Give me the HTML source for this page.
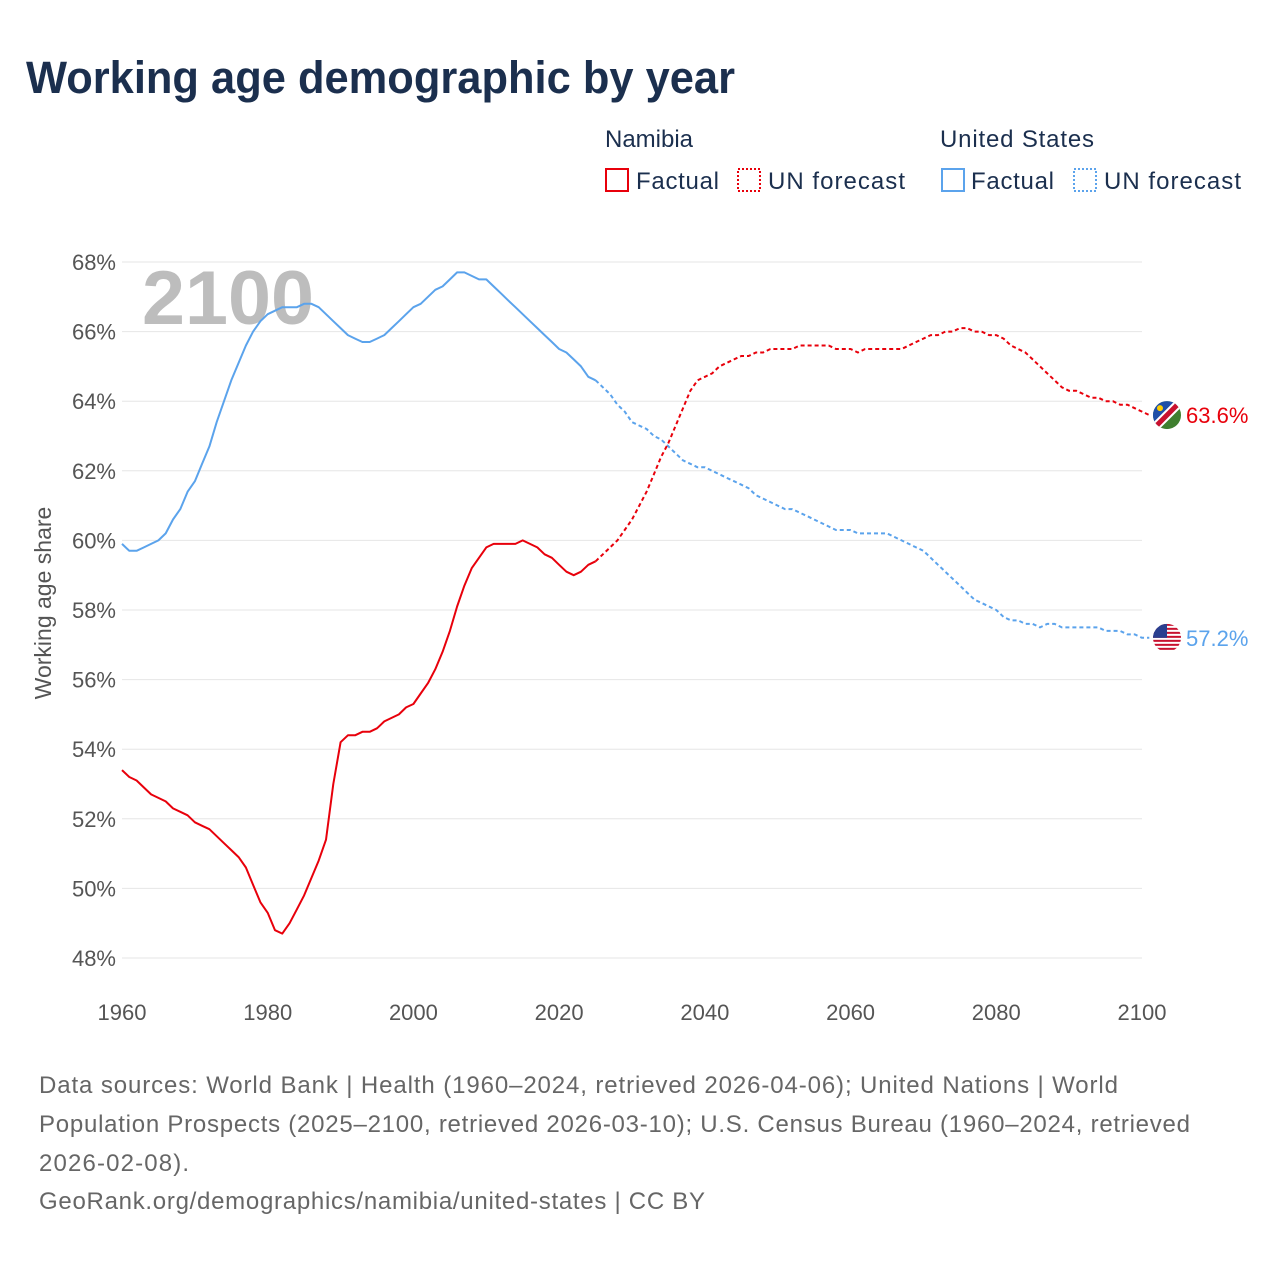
<!DOCTYPE html>
<html><head><meta charset="utf-8"><style>
body{margin:0;background:#fff;font-family:"Liberation Sans",sans-serif;}
#wrap{position:relative;width:1280px;height:1280px;overflow:hidden;}
</style></head><body>
<div id="wrap">
<svg id="chart" width="1280" height="1280" style="font-family:'Liberation Sans',sans-serif">
<defs>
<clipPath id="c1"><circle id="c1c" cx="1167" cy="0" r="14"/></clipPath>
<clipPath id="c2"><circle id="c2c" cx="1167" cy="0" r="14"/></clipPath>
</defs>
<text x="26" y="93" font-size="45" font-weight="bold" fill="#1b2f4e" textLength="709" lengthAdjust="spacingAndGlyphs">Working age demographic by year</text>
<g font-size="24" fill="#1b2f4e">
<text x="605" y="147">Namibia</text>
<rect x="606" y="169" width="22" height="22" fill="none" stroke="#e8000b" stroke-width="2"/>
<text x="636" y="189" textLength="83">Factual</text>
<rect x="738" y="169" width="22" height="22" fill="none" stroke="#e8000b" stroke-width="2" stroke-dasharray="2,2"/>
<text x="768" y="189" textLength="137">UN forecast</text>
<text x="940" y="147" textLength="154">United States</text>
<rect x="942" y="169" width="22" height="22" fill="none" stroke="#5ba3ec" stroke-width="2"/>
<text x="971" y="189" textLength="83">Factual</text>
<rect x="1074" y="169" width="22" height="22" fill="none" stroke="#5ba3ec" stroke-width="2" stroke-dasharray="2,2"/>
<text x="1104" y="189" textLength="137">UN forecast</text>
</g>
<g id="grid"></g>
<text x="142" y="324" font-size="76" font-weight="bold" fill="#bdbdbd" textLength="172" lengthAdjust="spacingAndGlyphs">2100</text>
<text transform="translate(51,603) rotate(-90)" text-anchor="middle" font-size="23" fill="#555">Working age share</text>
<g id="series"></g>
<g font-size="24" fill="#666">
<text x="39" y="1093" textLength="1079">Data sources: World Bank | Health (1960–2024, retrieved 2026-04-06); United Nations | World</text>
<text x="39" y="1132" textLength="1151">Population Prospects (2025–2100, retrieved 2026-03-10); U.S. Census Bureau (1960–2024, retrieved</text>
<text x="39" y="1171" textLength="150">2026-02-08).</text>
<text x="39" y="1209" textLength="666">GeoRank.org/demographics/namibia/united-states | CC BY</text>
</g>
</svg>
</div>
<script>
const yTicks=[48,50,52,54,56,58,60,62,64,66,68];
const xTicks=[1960,1980,2000,2020,2040,2060,2080,2100];
const namFactual=[53.4,53.2,53.1,52.9,52.7,52.6,52.5,52.3,52.2,52.1,51.9,51.8,51.7,51.5,51.3,51.1,50.9,50.6,50.1,49.6,49.3,48.8,48.7,49.0,49.4,49.8,50.3,50.8,51.4,53.0,54.2,54.4,54.4,54.5,54.5,54.6,54.8,54.9,55.0,55.2,55.3,55.6,55.9,56.3,56.8,57.4,58.1,58.7,59.2,59.5,59.8,59.9,59.9,59.9,59.9,60.0,59.9,59.8,59.6,59.5,59.3,59.1,59.0,59.1,59.3,59.4];
const namForecast=[59.4,59.6,59.8,60.0,60.3,60.6,61.0,61.4,61.9,62.4,62.8,63.3,63.8,64.3,64.6,64.7,64.8,65.0,65.1,65.2,65.3,65.3,65.4,65.4,65.5,65.5,65.5,65.5,65.6,65.6,65.6,65.6,65.6,65.5,65.5,65.5,65.4,65.5,65.5,65.5,65.5,65.5,65.5,65.6,65.7,65.8,65.9,65.9,66.0,66.0,66.1,66.1,66.0,66.0,65.9,65.9,65.8,65.6,65.5,65.4,65.2,65.0,64.8,64.6,64.4,64.3,64.3,64.2,64.1,64.1,64.0,64.0,63.9,63.9,63.8,63.7,63.6];
const usFactual=[59.9,59.7,59.7,59.8,59.9,60.0,60.2,60.6,60.9,61.4,61.7,62.2,62.7,63.4,64.0,64.6,65.1,65.6,66.0,66.3,66.5,66.6,66.7,66.7,66.7,66.8,66.8,66.7,66.5,66.3,66.1,65.9,65.8,65.7,65.7,65.8,65.9,66.1,66.3,66.5,66.7,66.8,67.0,67.2,67.3,67.5,67.7,67.7,67.6,67.5,67.5,67.3,67.1,66.9,66.7,66.5,66.3,66.1,65.9,65.7,65.5,65.4,65.2,65.0,64.7,64.6];
const usForecast=[64.6,64.4,64.2,63.9,63.7,63.4,63.3,63.2,63.0,62.9,62.7,62.5,62.3,62.2,62.1,62.1,62.0,61.9,61.8,61.7,61.6,61.5,61.3,61.2,61.1,61.0,60.9,60.9,60.8,60.7,60.6,60.5,60.4,60.3,60.3,60.3,60.2,60.2,60.2,60.2,60.2,60.1,60.0,59.9,59.8,59.7,59.5,59.3,59.1,58.9,58.7,58.5,58.3,58.2,58.1,58.0,57.8,57.7,57.7,57.6,57.6,57.5,57.6,57.6,57.5,57.5,57.5,57.5,57.5,57.5,57.4,57.4,57.4,57.3,57.3,57.2,57.2];
const NS='http://www.w3.org/2000/svg';
const x=yr=>122+(yr-1960)*(1020/140);
const y=v=>958-(v-48)*34.8;
const grid=document.getElementById('grid'),series=document.getElementById('series');
function mk(tag,attrs,parent){const e=document.createElementNS(NS,tag);for(const k in attrs)e.setAttribute(k,attrs[k]);parent.appendChild(e);return e;}
yTicks.forEach(t=>{
 const l=mk('line',{x1:122,x2:1142,y1:y(t),y2:y(t),stroke:'#e6e6e6','stroke-width':1},grid);
 
 
 const tx=mk('text',{x:116,y:y(t)+8,'text-anchor':'end','font-size':22,fill:'#555'},grid);
 tx.textContent=t+'%';
 
 
});
xTicks.forEach(t=>{
 const tx=mk('text',{x:x(t),y:1020,'text-anchor':'middle','font-size':22,fill:'#555'},grid);
 tx.textContent=t;
 
 
});
function line(vals,start,color,dash,name){
 const d=vals.map((v,i)=>(i?'L':'M')+x(start+i).toFixed(1)+','+y(v).toFixed(1)).join('');
 const p=mk('path',{d:d,fill:'none',stroke:color,'stroke-width':2,'stroke-linejoin':'round'},series);
 if(dash)p.setAttribute('stroke-dasharray','4,3');
 
 
}
line(usFactual,1960,'#5ba3ec',false,'us-factual-line');
line(usForecast,2025,'#5ba3ec',true,'us-forecast-line');
line(namFactual,1960,'#e8000b',false,'namibia-factual-line');
line(namForecast,2025,'#e8000b',true,'namibia-forecast-line');
const nEnd=namForecast[namForecast.length-1],uEnd=usForecast[usForecast.length-1];
const cy1=y(nEnd),cy2=y(uEnd);
document.getElementById('c1c').setAttribute('cy',cy1);
document.getElementById('c2c').setAttribute('cy',cy2);
const nf=mk('g',{'clip-path':'url(#c1)'},series);


mk('rect',{x:1153,y:cy1-14,width:28,height:28,fill:'#3f7f2f'},nf);
mk('path',{d:`M1153,${cy1-14} L1181,${cy1-14} L1153,${cy1+14}Z`,fill:'#1f4fa8'},nf);
mk('line',{x1:1153,y1:cy1+14,x2:1181,y2:cy1-14,stroke:'#fff','stroke-width':9},nf);
mk('line',{x1:1153,y1:cy1+14,x2:1181,y2:cy1-14,stroke:'#c8102e','stroke-width':5},nf);
mk('circle',{cx:1160,cy:cy1-7,r:3,fill:'#ffce00'},nf);
const nl=mk('text',{x:1186,y:cy1+8,'font-size':22,fill:'#e8000b'},series);
nl.textContent=nEnd.toFixed(1)+'%';


const uf=mk('g',{'clip-path':'url(#c2)'},series);


mk('rect',{x:1153,y:cy2-14,width:28,height:28,fill:'#fff'},uf);
for(let i=0;i<7;i++){mk('rect',{x:1153,y:cy2-14+i*4,width:28,height:2,fill:'#c8102e'},uf);}
mk('rect',{x:1153,y:cy2-14,width:14,height:14,fill:'#2a3f8f'},uf);
const ul=mk('text',{x:1186,y:cy2+8,'font-size':22,fill:'#5ba3ec'},series);
ul.textContent=uEnd.toFixed(1)+'%';


</script>
</body></html>
